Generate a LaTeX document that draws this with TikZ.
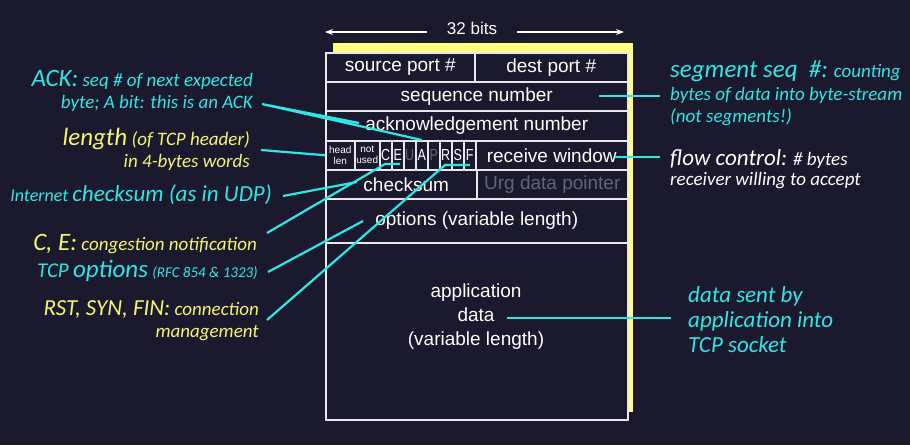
\documentclass[tikz,border=0pt]{standalone}
\usepackage{fontspec}
\setmainfont{Liberation Sans}
\newfontfamily\calibri{Carlito}
\usetikzlibrary{arrows.meta}

\definecolor{bg}{RGB}{27,25,45}
\definecolor{tcpcyan}{RGB}{45,230,230}
\definecolor{tcpyellow}{RGB}{245,245,110}
\definecolor{shadowyel}{RGB}{255,255,128}
\definecolor{dimtext}{RGB}{100,100,115}
\definecolor{rule}{RGB}{232,232,236}

\newcommand{\tcpbig}[1]{{\fontsize{25}{27}\selectfont #1}}
\newcommand{\tcpmid}[1]{{\fontsize{23}{25}\selectfont #1}}
\newcommand{\tcpsmall}[1]{{\fontsize{15}{17}\selectfont #1}}
\newcommand{\flagtxt}[1]{\scalebox{0.78}[1]{#1}}

\tikzset{
  field/.style={draw=rule, fill=bg, line width=1.5pt, anchor=north west, inner sep=0pt,
    text=white, minimum height=29pt, font=\fontsize{19}{24}\selectfont},
  flag/.style={field, minimum width=12pt, font=\fontsize{16}{18}\selectfont},
  tiny/.style={field, align=center, font=\fontsize{10}{11}\selectfont},
  note/.style={inner sep=0pt, font=\calibri\itshape\fontsize{19}{22}\selectfont},
  callout/.style={draw=tcpcyan, line width=2.2pt}
}

\begin{document}
\begin{tikzpicture}[x=1pt, y=-1pt]
  \fill[bg] (0,0) rectangle (910,445);
  \useasboundingbox (0,0) rectangle (910,445);

  % width arrow
  \node[text=white, inner xsep=20pt, inner ysep=0pt, font=\fontsize{17}{20}\selectfont] (bits) at (472,28) {32 bits};
  \coordinate (wl) at (325,32);
  \coordinate (wr) at (624,32);
  \draw[white, line width=1.2pt, -{Stealth[length=8pt, width=6pt]}] (bits.west |- wl) -- (wl);
  \draw[white, line width=1.2pt, -{Stealth[length=8pt, width=6pt]}] (bits.east |- wr) -- (wr);

  % yellow shadow
  \fill[shadowyel] (333,43) rectangle (633,412);

  % header rows
  \node[field, minimum width=149pt] (src) at (325,52) {source port \#};
  \node[field, minimum width=153pt] (dst) at (474,52) {dest port \#};
  \node[field, minimum width=302pt] (seq) at (325,81) {sequence number};
  \node[field, minimum width=302pt, minimum height=30pt] (ack) at (325,110) {acknowledgement number};
  \node[tiny, minimum width=29pt] (hlen) at (325,140) {head\\len};
  \node[tiny, minimum width=25pt] (unused) at (354,140) {not\\used};
  \node[flag] (fC) at (379,140) {\flagtxt{C}};
  \node[flag] (fE) at (391,140) {\flagtxt{E}};
  \node[flag, text=dimtext] (fU) at (403,140) {\flagtxt{U}};
  \node[flag] (fA) at (415,140) {\flagtxt{A}};
  \node[flag, text=dimtext] (fP) at (427,140) {\flagtxt{P}};
  \node[flag] (fR) at (439,140) {\flagtxt{R}};
  \node[flag] (fS) at (451,140) {\flagtxt{S}};
  \node[flag] (fF) at (463,140) {\flagtxt{F}};
  \node[field, minimum width=152pt] (rwin) at (475,140) {receive window};
  \node[field, minimum width=151pt, text width=151pt, align=center] (cks) at (325,169) {\hspace*{10pt}checksum};
  \node[field, minimum width=151pt, text=dimtext] (urg) at (476,169) {Urg data pointer};
  \node[field, minimum width=302pt, minimum height=44pt] (opts) at (325,198) {options (variable length)};
  \node[field, minimum width=302pt, minimum height=177pt] (data) at (325,242) {};
  \node[text=white, align=center, inner sep=0pt, font=\fontsize{19}{24}\selectfont] (apptext) at (476,317) {application\\data\\(variable length)};

  % left notes
  \node[note, text=tcpcyan, anchor=base east] (ackA) at (253,86) {\tcpbig{ACK:} seq \# of next expected};
  \node[note, text=tcpcyan, anchor=base east] (ackB) at (253,108) {byte; A bit: this is an ACK};
  \node[note, text=tcpyellow, anchor=base east] (lenA) at (250,145) {\tcpbig{length} (of TCP header)};
  \node[note, text=tcpyellow, anchor=base east] (lenB) at (250,167) {in 4-bytes words};
  \node[note, text=tcpcyan, anchor=base east, font=\calibri\itshape\fontsize{18}{22}\selectfont] (cksnote) at (272,201) {Internet \tcpmid{checksum (as in UDP)}};
  \node[note, text=tcpyellow, anchor=base east] (cenote) at (257,250) {\tcpbig{C, E:} congestion notification};
  \node[note, text=tcpcyan, anchor=base east] (optnote) at (258,277) {{\fontsize{21}{24}\selectfont TCP} \tcpbig{options} \tcpsmall{(RFC 854 \& 1323)}};
  \node[note, text=tcpyellow, anchor=base east] (rstA) at (259,315) {\tcpmid{RST, SYN, FIN:} connection};
  \node[note, text=tcpyellow, anchor=base east] (rstB) at (259,337) {management};

  % right notes
  \node[note, text=tcpcyan, anchor=base west] (segA) at (670,77) {\tcpbig{segment seq~~\#:} counting};
  \node[note, text=tcpcyan, anchor=base west] (segB) at (670,100) {bytes of data into byte-stream};
  \node[note, text=tcpcyan, anchor=base west] (segC) at (670,122) {(not segments!)};
  \node[note, text=white, anchor=base west] (flowA) at (670,165) {\tcpmid{flow control:} \# bytes};
  \node[note, text=white, anchor=base west] (flowB) at (670,185) {receiver willing to accept};
  \node[note, text=tcpcyan, anchor=base west, font=\calibri\itshape\fontsize{23}{25}\selectfont] (sentA) at (688,302) {data sent by};
  \node[note, text=tcpcyan, anchor=base west, font=\calibri\itshape\fontsize{23}{25}\selectfont] (sentB) at (688,327) {application into};
  \node[note, text=tcpcyan, anchor=base west, font=\calibri\itshape\fontsize{23}{25}\selectfont] (sentC) at (688,352) {TCP socket};

  % callout ends
  \coordinate (ackT) at (262,104);
  \coordinate (ackH) at (359,123);
  \coordinate (lenT) at (261,150);
  \coordinate (cksT) at (283,196);
  \coordinate (cksH) at (357,182);
  \coordinate (ceT) at (267,233);
  \coordinate (ceC) at (385,164);
  \coordinate (ceE) at (400,164);
  \coordinate (optT) at (268,272);
  \coordinate (optH) at (363,221);
  \coordinate (rstT) at (267,320);
  \coordinate (rstR) at (445,165);
  \coordinate (rstF) at (470,165);
  \coordinate (seqH) at (599,96);
  \coordinate (seqT) at (660,96);
  \coordinate (rwinH) at (615,157);
  \coordinate (rwinT) at (660,157);
  \coordinate (dataH) at (507,318);
  \coordinate (dataT) at (671,318);

  % callouts
  \draw[callout] (ackH) -- (ackT) -- (fA.north);
  \draw[callout] (lenT) -- (hlen.west);
  \draw[callout] (cksT) -- (cksH);
  \draw[callout] (ceT) -- (ceC) -- (ceE);
  \draw[callout] (optT) -- (optH);
  \draw[callout] (rstT) -- (rstR) -- (rstF);
  \draw[callout] (seqH) -- (seqT);
  \draw[callout] (rwinH) -- (rwinT);
  \draw[callout] (dataH) -- (dataT);
\end{tikzpicture}
\end{document}
